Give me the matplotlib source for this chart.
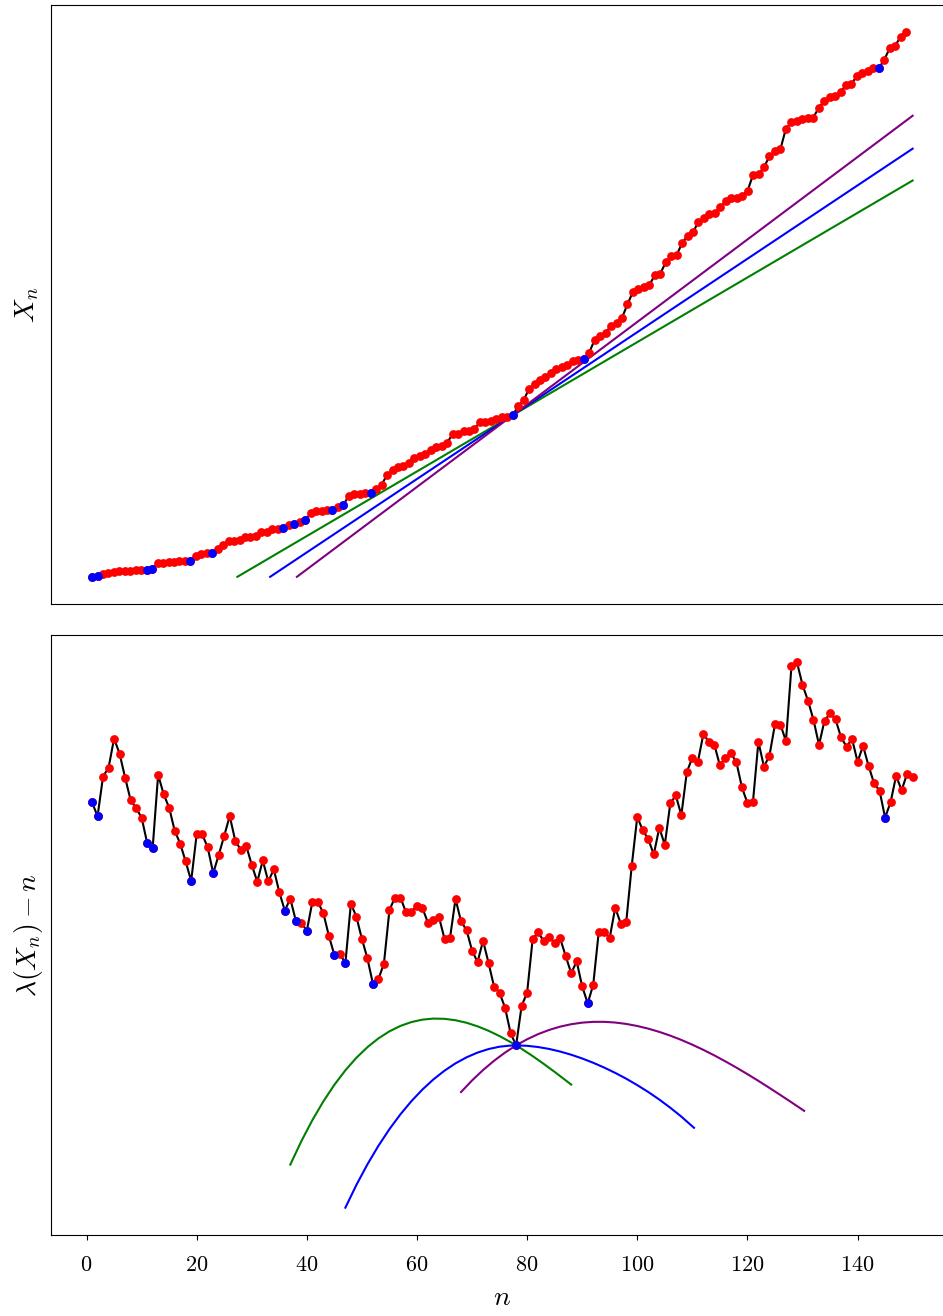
"""Points of a point process X_n and the walk lambda(X_n) - n"""
import matplotlib.pyplot as plt

plt.rcParams['font.family'] = 'serif'
plt.rcParams['font.serif'] = ['cmr10']
plt.rcParams['mathtext.fontset'] = 'cm'
plt.rcParams['axes.formatter.use_mathtext'] = True

N = list(range(1, 151))

X_N = [
    0.3, 0.7, 2.5, 3.9, 5.0, 5.5, 5.8, 6.2, 6.8, 7.3,
    7.3, 8.3, 13.7, 14.0, 14.7, 14.9, 15.5, 16.0, 16.3, 20.8,
    22.7, 23.5, 24.0, 27.8, 31.4, 35.6, 35.7, 37.0, 39.4, 40.0,
    40.7, 44.5, 44.9, 47.9, 48.2, 48.7, 52.3, 52.7, 55.2, 57.0,
    63.5, 65.5, 66.4, 66.7, 67.3, 70.2, 72.0, 81.4, 82.8, 83.3,
    83.9, 84.0, 87.6, 92.4, 102.0, 106.6, 109.8, 111.3, 114.5, 118.6,
    121.5, 123.0, 126.7, 130.4, 131.0, 134.5, 143.0, 143.5, 145.8, 146.6,
    148.5, 154.9, 155.4, 155.8, 158.5, 160.0, 160.1, 162.0, 171.0, 177.0,
    188.5, 193.0, 197.0, 200.5, 204.5, 208.5, 209.8, 212.0, 216.7, 217.0,
    218.0, 224.7, 237.5, 241.3, 244.6, 251.5, 254.5, 259.5, 273.0, 285.5,
    288.0, 290.6, 292.5, 302.0, 303.7, 315.0, 321.5, 322.5, 334.3, 341.7,
    345.5, 355.5, 359.5, 363.3, 364.3, 370.5, 376.3, 379.2, 379.9, 382.0,
    387.0, 403.0, 403.3, 410.5, 421.5, 426.5, 428.5, 449.0, 455.3, 456.5,
    458.6, 459.7, 460.2, 469.7, 477.0, 480.3, 482.0, 485.5, 492.7, 493.7,
    502.0, 504.7, 507.0, 509.5, 509.7, 518.0, 529.7, 532.0, 541.3, 545.7,
]

LAMBDA_MINUS_N = [
    9.36, 8.82, 10.35, 10.69, 11.81, 11.23, 10.31, 9.45, 9.13, 8.77,
    7.80, 7.58, 10.42, 9.67, 9.15, 8.27, 7.77, 7.08, 6.33, 8.13,
    8.13, 7.62, 6.63, 7.33, 8.07, 8.83, 7.88, 7.53, 7.68, 6.95,
    6.30, 7.12, 6.31, 6.78, 5.90, 5.19, 5.65, 4.80, 4.72, 4.41,
    5.52, 5.52, 5.09, 4.22, 3.48, 3.52, 3.17, 5.46, 4.95, 4.10,
    3.35, 2.37, 2.55, 3.15, 5.21, 5.69, 5.69, 5.13, 5.14, 5.38,
    5.28, 4.72, 4.83, 4.94, 4.10, 4.14, 5.64, 4.77, 4.44, 3.65,
    3.21, 4.03, 3.17, 2.26, 2.02, 1.45, 0.47, 0.00, 1.52, 2.03,
    4.08, 4.35, 4.02, 4.18, 3.94, 4.12, 3.44, 2.78, 3.23, 2.27,
    1.62, 2.33, 4.36, 4.35, 4.15, 5.30, 4.69, 4.75, 6.92, 8.80,
    8.28, 7.94, 7.35, 8.38, 7.72, 9.32, 9.62, 8.86, 10.52, 11.08,
    10.91, 11.98, 11.69, 11.57, 10.78, 11.08, 11.25, 10.90, 9.94, 9.33,
    9.36, 11.69, 10.73, 11.15, 12.36, 12.35, 11.71, 14.60, 14.75, 13.88,
    13.27, 12.53, 11.57, 12.50, 12.78, 12.55, 11.86, 11.50, 11.80, 10.92,
    11.53, 10.76, 10.09, 9.80, 8.77, 9.36, 10.38, 9.82, 10.46, 10.35,
]

BLUE_N = [1, 2, 11, 12, 19, 23, 36, 38, 40, 45, 47, 52, 78, 91, 145]

# straight lines through the point n = 78 (upper panel)
GREEN_LINE_N = [27.6, 151.2]
GREEN_LINE_X = [0.0, 397.1]
BLUE_LINE_N = [33.6, 151.2]
BLUE_LINE_X = [0.0, 429.0]
PURPLE_LINE_N = [38.5, 151.2]
PURPLE_LINE_X = [0.0, 462.0]

# the same lines seen in the lower panel
GREEN_CURVE_N = [37, 39, 41, 43, 45, 47, 49, 51, 53, 55, 57, 59, 61, 63, 65,
                 67, 69, 71, 73, 75, 77, 78, 79, 81, 83, 85, 87, 88]
GREEN_CURVE_Y = [-4.589, -3.689, -2.879, -2.156, -1.517, -0.959, -0.477,
                 -0.069, 0.270, 0.541, 0.750, 0.899, 0.992, 1.032, 1.023,
                 0.968, 0.871, 0.734, 0.562, 0.358, 0.126, 0.0, -0.132,
                 -0.411, -0.709, -1.021, -1.345, -1.510]
BLUE_CURVE_N = [47, 49, 51, 53, 55, 57, 59, 61, 63, 65, 67, 69, 71, 73, 75,
                77, 78, 80, 82, 84, 86, 88, 90, 92, 94, 96, 98, 100, 102,
                104, 106, 108, 110.3]
BLUE_CURVE_Y = [-6.247, -5.372, -4.580, -3.866, -3.224, -2.652, -2.144,
                -1.697, -1.307, -0.973, -0.691, -0.460, -0.277, -0.141,
                -0.050, -0.006, 0.0, -0.016, -0.063, -0.137, -0.237, -0.359,
                -0.504, -0.669, -0.854, -1.059, -1.283, -1.529, -1.795,
                -2.085, -2.400, -2.741, -3.172]
PURPLE_CURVE_N = [68, 70, 72, 74, 76, 78, 80, 82, 84, 86, 88, 90, 92, 94, 96,
                  98, 100, 102, 104, 106, 108, 110, 112, 114, 116, 118, 120,
                  122, 124, 126, 128, 130, 130.3]
PURPLE_CURVE_Y = [-1.796, -1.350, -0.949, -0.591, -0.275, 0.0, 0.236, 0.434,
                  0.595, 0.722, 0.815, 0.876, 0.906, 0.907, 0.880, 0.826,
                  0.747, 0.645, 0.520, 0.375, 0.210, 0.027, -0.172, -0.386,
                  -0.615, -0.855, -1.106, -1.367, -1.636, -1.912, -2.192,
                  -2.477, -2.520]


def draw_points(ax, yvals):
    """black path, red dots, blue dots on top"""
    ax.plot(N, yvals, color='black', lw=1.5, zorder=2)
    ax.scatter(N, yvals, s=40, color='red', lw=0, zorder=3)
    ax.scatter(BLUE_N, [yvals[i - 1] for i in BLUE_N], s=40, color='blue',
               lw=0, zorder=4)


def main():
    """Go Main Go"""
    fig = plt.figure(figsize=(9.43, 13.16), dpi=100)
    ax1 = fig.add_axes([0.0541, 0.5410, 0.9572, 0.4552])
    ax2 = fig.add_axes([0.0541, 0.0616, 0.9572, 0.4559])

    ax1.plot(GREEN_LINE_N, GREEN_LINE_X, color='green', lw=1.5, zorder=1)
    ax1.plot(BLUE_LINE_N, BLUE_LINE_X, color='blue', lw=1.5, zorder=1)
    ax1.plot(PURPLE_LINE_N, PURPLE_LINE_X, color='purple', lw=1.5, zorder=1)
    draw_points(ax1, X_N)
    ax1.set_xticks([])
    ax1.set_yticks([])
    ax1.set_ylabel(r'$X_n$', fontsize=20, labelpad=7.5)

    ax2.plot(GREEN_CURVE_N, GREEN_CURVE_Y, color='green', lw=1.5, zorder=1)
    ax2.plot(BLUE_CURVE_N, BLUE_CURVE_Y, color='blue', lw=1.5, zorder=1)
    ax2.plot(PURPLE_CURVE_N, PURPLE_CURVE_Y, color='purple', lw=1.5,
             zorder=1)
    draw_points(ax2, LAMBDA_MINUS_N)
    ax2.set_yticks([])
    ax2.set_xticks(range(0, 141, 20))
    ax2.tick_params(labelsize=16, pad=11)
    ax2.set_xlabel(r'$n$', fontsize=20, labelpad=7)
    ax2.set_ylabel(r'$\lambda(X_n) - n$', fontsize=20)

    fig.savefig('out.png', dpi=100)


if __name__ == '__main__':
    main()
